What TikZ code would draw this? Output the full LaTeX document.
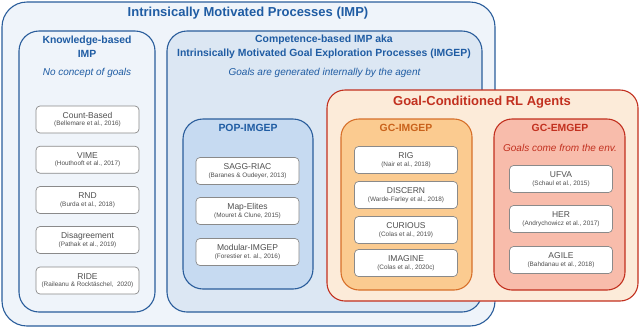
\documentclass[tikz,border=0pt]{standalone}
\usepackage{fontspec}
\setmainfont{Liberation Sans}
\definecolor{impblue}{HTML}{2A5D9B}
\definecolor{titleblue}{HTML}{1F5CA3}
\definecolor{impfill}{HTML}{EFF4FA}
\definecolor{compfill}{HTML}{DCE7F3}
\definecolor{popfill}{HTML}{C6DAF1}
\definecolor{gcred}{HTML}{C2301F}
\definecolor{gcfill}{HTML}{FCEBD9}
\definecolor{imgeporange}{HTML}{D7702A}
\definecolor{imgeptext}{HTML}{C9621B}
\definecolor{imgepfill}{HTML}{FBCB90}
\definecolor{emgepfill}{HTML}{F8BCAB}
\definecolor{itemgray}{HTML}{8A8A8A}
\definecolor{textgray}{HTML}{4F4F4F}
\newcommand{\method}[2]{#1\\[-1.5pt]{\fontsize{6.4}{7}\selectfont #2}}

\begin{document}
\begin{tikzpicture}[x=1pt, y=-1pt,
    panel/.style={draw, rectangle, line width=1.1pt, inner sep=0pt},
    bigtitle/.style={font=\fontsize{13}{15}\selectfont\bfseries},
    boxtitle/.style={font=\fontsize{10.4}{14}\selectfont\bfseries, align=center},
    note/.style={font=\fontsize{10}{12}\selectfont\itshape},
    item/.style={draw=itemgray, fill=white, rectangle, rounded corners=4pt, line width=0.7pt,
        minimum width=103pt, minimum height=27pt, inner sep=1pt, align=center,
        text=textgray, font=\fontsize{8.5}{9}\selectfont}]
    \useasboundingbox (0,0) rectangle (640,330);

    % intrinsically motivated processes
    \node[panel, draw=impblue, fill=impfill, rounded corners=25pt, minimum width=493pt, minimum height=324pt] (imp) at (248.5,164) {};
    \node[bigtitle, text=titleblue] (imptitle) at (248,13) {Intrinsically Motivated Processes (IMP)};

    % knowledge-based
    \node[panel, draw=impblue, fill=impfill, rounded corners=20pt, minimum width=136pt, minimum height=281pt] (know) at (87,171.5) {};
    \node[boxtitle, text=titleblue] (knowtitle) at (87,47) {Knowledge-based\\IMP};
    \node[note, text=titleblue] (knownote) at (87,73) {No concept of goals};
    \node[item] (count) at (87.5,119.5) {\method{Count-Based}{(Bellemare et al., 2016)}};
    \node[item] (vime) at (87.5,159.7) {\method{VIME}{(Houthooft et al., 2017)}};
    \node[item] (rnd) at (87.5,200) {\method{RND}{(Burda et al., 2018)}};
    \node[item] (disagree) at (87.5,240) {\method{Disagreement}{(Pathak et al., 2019)}};
    \node[item] (ride) at (87.5,280.5) {\method{RIDE}{(Raileanu \& Rocktäschel,~~2020)}};

    % competence-based
    \node[panel, draw=impblue, fill=compfill, rounded corners=20pt, minimum width=315pt, minimum height=281pt] (comp) at (324.5,171.5) {};
    \node[boxtitle, text=titleblue] (comptitle) at (324,47) {Competence-based IMP aka\\Intrinsically Motivated Goal Exploration Processes (IMGEP)};
    \node[note, text=titleblue] (compnote) at (324.5,73) {Goals are generated internally by the agent};

    % pop-imgep
    \node[panel, draw=impblue, fill=popfill, rounded corners=20pt, minimum width=130pt, minimum height=170pt] (pop) at (248,204) {};
    \node[boxtitle, text=titleblue] (poptitle) at (248,128) {POP-IMGEP};
    \node[item] (sagg) at (247.5,171) {\method{SAGG-RIAC}{(Baranes \& Oudeyer, 2013)}};
    \node[item] (mapel) at (247.5,211) {\method{Map-Elites}{(Mouret \& Clune, 2015)}};
    \node[item] (modular) at (247.5,252) {\method{Modular-IMGEP}{(Forestier et. al., 2016)}};

    % goal-conditioned agents
    \node[panel, draw=gcred, fill=gcfill, rounded corners=18pt, minimum width=311pt, minimum height=211pt] (gc) at (482.5,195.5) {};
    \node[bigtitle, text=gcred] (gctitle) at (482,102) {Goal-Conditioned RL Agents};

    % gc-imgep
    \node[panel, draw=imgeporange, fill=imgepfill, rounded corners=18pt, minimum width=131pt, minimum height=171pt] (gcimgep) at (406.5,204.5) {};
    \node[boxtitle, text=imgeptext] (gcimgeptitle) at (406,128) {GC-IMGEP};
    \node[item] (rig) at (406,160) {\method{RIG}{(Nair et al., 2018)}};
    \node[item] (discern) at (406,195) {\method{DISCERN}{(Warde-Farley et al., 2018)}};
    \node[item] (curious) at (406,230) {\method{CURIOUS}{(Colas et al., 2019)}};
    \node[item] (imagine) at (406,263) {\method{IMAGINE}{(Colas et al., 2020c)}};

    % gc-emgep
    \node[panel, draw=gcred, fill=emgepfill, rounded corners=18pt, minimum width=131pt, minimum height=171pt] (gcemgep) at (559.5,204.5) {};
    \node[boxtitle, text=gcred] (gcemgeptitle) at (560,128) {GC-EMGEP};
    \node[note, text=gcred] (gcemgepnote) at (560,148) {Goals come from the env.};
    \node[item] (ufva) at (561,179) {\method{UFVA}{(Schaul et al., 2015)}};
    \node[item] (her) at (561,219) {\method{HER}{(Andrychowicz et al., 2017)}};
    \node[item] (agile) at (561,260) {\method{AGILE}{(Bahdanau et al., 2018)}};
\end{tikzpicture}
\end{document}
